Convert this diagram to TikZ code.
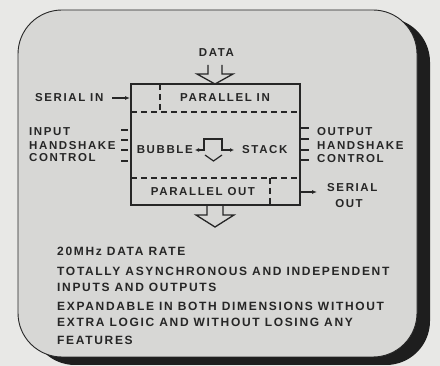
\documentclass[tikz,border=0pt]{standalone}
\usepackage{fontspec}
\newfontfamily\lab{Liberation Sans}[LetterSpace=14]
\usetikzlibrary{arrows.meta}
\definecolor{bgout}{HTML}{E8E8E6}
\definecolor{panel}{HTML}{D7D7D5}
\definecolor{ink}{HTML}{262626}
\definecolor{shadowcol}{HTML}{1E1E1E}
\tikzset{
  txt/.style={inner sep=0pt, text=ink, font=\lab\bfseries\fontsize{11.5}{13}\selectfont},
  feat/.style={inner sep=0pt, text=ink, font=\lab\bfseries\fontsize{12}{14}\selectfont, anchor=base west},
  boxline/.style={draw=ink, line width=1.4pt},
  dashline/.style={draw=ink, line width=1.1pt, dash pattern=on 6pt off 4pt},
  hollow/.style={draw=ink, line width=1.3pt, line join=miter},
  tick/.style={draw=ink, line width=1.1pt},
  sarrow/.style={draw=ink, line width=1.1pt, -{Latex[length=5pt,width=4pt]}}
}
\begin{document}
\begin{tikzpicture}[x=1pt,y=-1pt]
\useasboundingbox (0,0) rectangle (440,366);
\fill[bgout] (0,0) rectangle (440,366);
% panel with shadow
\fill[shadowcol, rounded corners=44pt] (31,18) rectangle (430,365);
\filldraw[fill=panel, draw=ink, line width=0.9pt, rounded corners=44pt] (18,10) rectangle (417,357);
% chip box
\draw[boxline] (131,84) rectangle (300,205);
\draw[dashline] (131,112) -- (300,112);
\draw[dashline] (131,178) -- (300,178);
\draw[dashline] (160,84) -- (160,112);
\draw[dashline] (270,178) -- (270,205);
% data arrow (hollow)
\draw[hollow] (208,65) -- (208,74) -- (197,74) -- (215,84) -- (233,74) -- (222,74) -- (222,65);
% output arrow (hollow)
\draw[hollow] (207,205) -- (207,215) -- (196,215) -- (215,227) -- (234,215) -- (223,215) -- (223,205);
% bubble arrow
\draw[draw=ink, line width=1.3pt, {Latex[length=4pt,width=4pt]}-{Latex[length=4pt,width=4pt]}] (195,150) -- (204,150) -- (204,139) -- (222,139) -- (222,150) -- (234,150);
\draw[draw=ink, line width=1.2pt] (205,155) -- (213.5,161) -- (222,155);
% ticks
\foreach \y in {130,140,150,161} \draw[tick] (121,\y) -- (128,\y);
\foreach \y in {128,139,150,160} \draw[tick] (300,\y) -- (309,\y);
% serial arrows
\coordinate (sin) at (112,98);
\coordinate (sinend) at (130,98);
\draw[sarrow] (sin) -- (sinend);
\coordinate (sout) at (301,192);
\coordinate (soutend) at (317,192);
\draw[sarrow] (sout) -- (soutend);
% labels
\node[txt, anchor=base] (data) at (216.5,57) {DATA};
\node[txt, anchor=base west] (serialin) at (35,102) {SERIAL IN};
\node[txt, anchor=base] (parin) at (225,102) {PARALLEL IN};
\node[txt, anchor=base west] (in1) at (29,136) {INPUT};
\node[txt, anchor=base west] (in2) at (29,150) {HANDSHAKE};
\node[txt, anchor=base west] (in3) at (29,162) {CONTROL};
\node[txt, anchor=base east] (bubble) at (193,154) {BUBBLE};
\node[txt, anchor=base west] (stack) at (242,154) {STACK};
\node[txt, anchor=base west] (out1) at (317,135.5) {OUTPUT};
\node[txt, anchor=base west] (out2) at (317,149.5) {HANDSHAKE};
\node[txt, anchor=base west] (out3) at (317,163) {CONTROL};
\node[txt, anchor=base] (parout) at (203,196) {PARALLEL OUT};
\node[txt, anchor=base west] (serial) at (327,191.5) {SERIAL};
\node[txt, anchor=base] (outl) at (349,208) {OUT};
% feature list
\node[feat] (f1) at (57,256) {20MHz DATA RATE};
\node[feat] (f2) at (57,276) {TOTALLY ASYNCHRONOUS AND INDEPENDENT};
\node[feat] (f3) at (57,292) {INPUTS AND OUTPUTS};
\node[feat] (f4) at (57,311) {EXPANDABLE IN BOTH DIMENSIONS WITHOUT};
\node[feat] (f5) at (57,327) {EXTRA LOGIC AND WITHOUT LOSING ANY};
\node[feat] (f6) at (57,345) {FEATURES};
\end{tikzpicture}
\end{document}
